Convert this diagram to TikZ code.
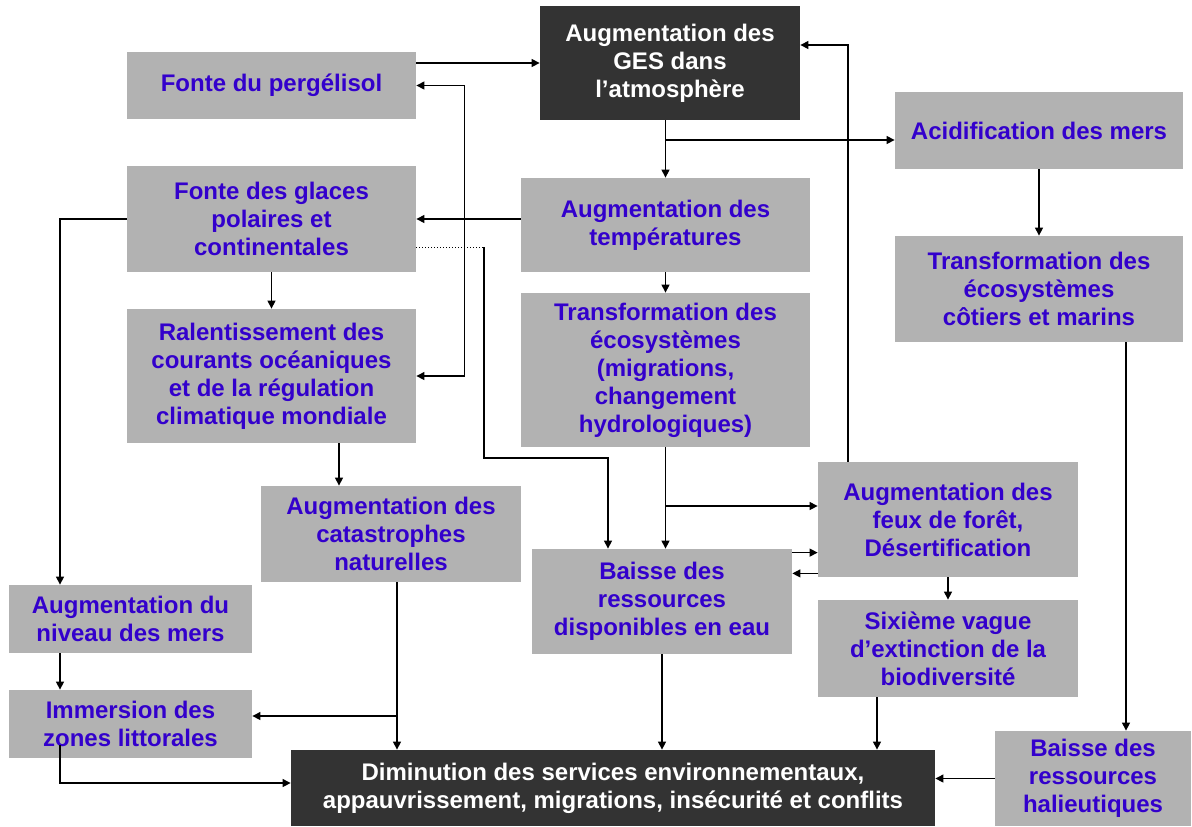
\documentclass[tikz,border=0pt]{standalone}
\usepackage{fontspec}
\setmainfont{Liberation Sans}
\usetikzlibrary{arrows.meta}
\definecolor{boxgray}{RGB}{178,178,178}
\definecolor{boxdark}{RGB}{51,51,51}
\definecolor{txtblue}{RGB}{51,0,204}
\tikzset{
  sz/.style 2 args={minimum width=#1*0.5pt, minimum height=#2*0.5pt},
  gbox/.style={fill=boxgray, inner sep=0pt, align=center, text=txtblue,
    font=\fontsize{12}{14}\selectfont\bfseries},
  dbox/.style={gbox, fill=boxdark, text=white},
  arr/.style={-{Triangle[length=4pt,width=4pt]}, line width=0.6pt},
  biarr/.style={{Triangle[length=4pt,width=4pt]}-{Triangle[length=4pt,width=4pt]}, line width=0.6pt},
}
\begin{document}
\begin{tikzpicture}[x=0.5pt,y=-0.5pt]
    \useasboundingbox (0,0) rectangle (1192,826);
    % boxes
    \node[dbox, sz={260}{114}] (ges)    at (670,63)     {Augmentation des\\GES dans\\l’atmosphère};
    \node[gbox, sz={289}{67}]  (perg)   at (271.5,85.5) {Fonte du pergélisol};
    \node[gbox, sz={288}{77}]  (acid)   at (1039,130.5) {Acidification des mers};
    \node[gbox, sz={289}{106}] (fonte)  at (271.5,219)  {Fonte des glaces\\polaires et\\continentales};
    \node[gbox, sz={289}{94}]  (temp)   at (665.5,225)  {Augmentation des\\températures};
    \node[gbox, sz={288}{106}] (cotier) at (1039,289)   {Transformation des\\écosystèmes\\côtiers et marins};
    \node[gbox, sz={289}{134}] (ralent) at (271.5,376)  {Ralentissement des\\courants océaniques\\et de la régulation\\climatique mondiale};
    \node[gbox, sz={289}{154}] (transf) at (665.5,370)  {Transformation des\\écosystèmes\\(migrations,\\changement\\hydrologiques)};
    \node[gbox, sz={260}{96}]  (catas)  at (391,534)    {Augmentation des\\catastrophes\\naturelles};
    \node[gbox, sz={260}{115}] (feux)   at (948,519.5)  {Augmentation des\\feux de forêt,\\Désertification};
    \node[gbox, sz={260}{105}] (eau)    at (662,601.5)  {Baisse des\\ressources\\disponibles en eau};
    \node[gbox, sz={260}{97}]  (sixv)   at (948,648.5)  {Sixième vague\\d’extinction de la\\biodiversité};
    \node[gbox, sz={243}{68}]  (niveau) at (130.5,619)  {Augmentation du\\niveau des mers};
    \node[gbox, sz={243}{68}]  (immer)  at (130.5,724)  {Immersion des\\zones littorales};
    \node[dbox, sz={644}{76}]  (dimin)  at (613,788)    {Diminution des services environnementaux,\\appauvrissement, migrations, insécurité et conflits};
    \node[gbox, sz={196}{95}]  (halieu) at (1093,778.5) {Baisse des\\ressources\\halieutiques};
    % branch points
    \coordinate (gsplit)  at (665.5,140);
    \coordinate (lcol)    at (60,0);
    \coordinate (dcorner) at (484,247);
    \coordinate (dturn)   at (608,458);
    \coordinate (tsplit)  at (665.5,506);
    \coordinate (csplit)  at (397,716);
    % connectors
    \draw[arr] (perg.east |- ges.west) -- (ges.west);
    \draw[biarr] (ralent.east) -- ++(48,0) |- (perg.east);
    \draw[arr] (ges.south -| temp.north) -- (temp.north);
    \draw[arr] (gsplit) -- (gsplit -| acid.west);
    \draw[arr] (temp.west |- fonte.east) -- (fonte.east);
    \draw[arr] (temp.south) -- (transf.north);
    \draw[arr] (acid.south) -- (cotier.north);
    \draw[arr] ([xshift=43.5pt]cotier.south) -- ([xshift=43.5pt]cotier.south |- halieu.north);
    \draw[arr] (fonte.south) -- (ralent.north);
    \draw[arr] (fonte.west) -| (lcol |- niveau.north);
    \draw[densely dotted, line width=0.5pt] ([yshift=-14pt]fonte.east) -- (dcorner);
    \draw[arr] (dcorner) |- (dturn) -- (dturn |- eau.north);
    \draw[arr] ([xshift=-26pt]catas.north |- ralent.south) -- ([xshift=-26pt]catas.north);
    \draw[arr] (transf.south) -- (transf.south |- eau.north);
    \draw[arr] (tsplit) -- (tsplit -| feux.west);
    \draw[arr] ([xshift=-50pt]feux.north) |- ([yshift=9pt]ges.east);
    \draw[arr] ([yshift=-2pt]eau.north east) -- ([yshift=-2pt]eau.north east -| feux.west);
    \draw[arr] ([yshift=2pt]feux.south west) -- ([yshift=2pt]feux.south west -| eau.east);
    \draw[arr] (feux.south) -- (sixv.north);
    \draw[arr] ([xshift=-35.5pt]sixv.south) -- ([xshift=-35.5pt]sixv.south |- dimin.north);
    \draw[arr] (eau.south) -- (eau.south |- dimin.north);
    \draw[arr] (csplit |- catas.south) -- (csplit |- dimin.north);
    \draw[arr] (csplit) -- (csplit -| immer.east);
    \draw[arr] (lcol |- niveau.south) -- (lcol |- immer.north);
    \draw[arr] ([yshift=6.5pt]lcol |- immer.south) |- ([yshift=2.5pt]dimin.west);
    \draw[arr] (halieu.west) -- (halieu.west -| dimin.east);
\end{tikzpicture}
\end{document}
